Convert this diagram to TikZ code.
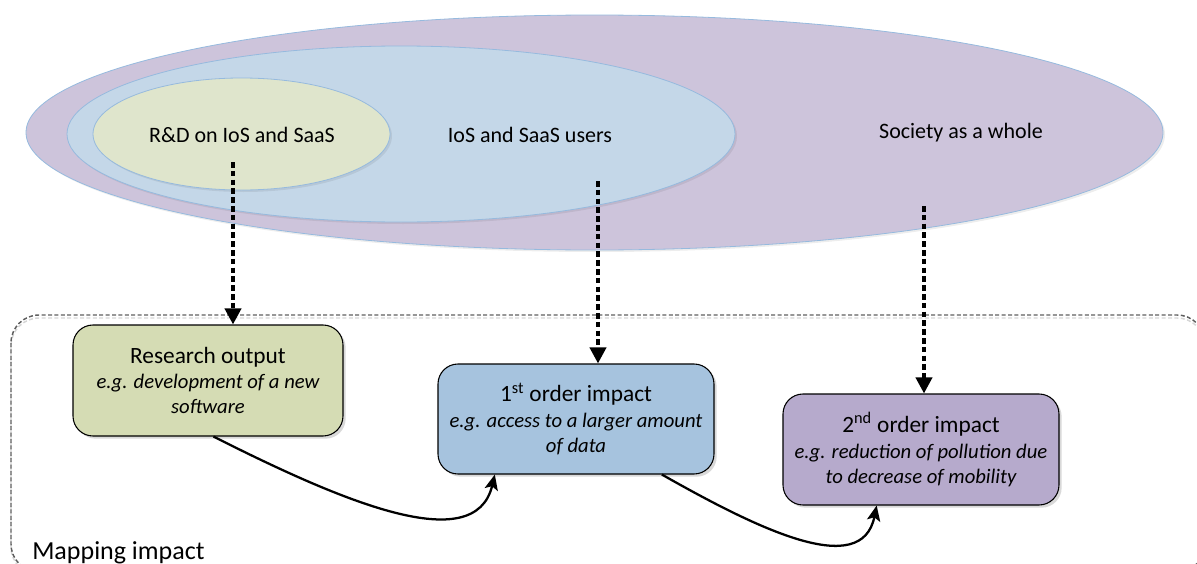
\documentclass[tikz,border=0pt]{standalone}
\usepackage{fontspec}
\setmainfont{Carlito}
\usetikzlibrary{shapes.geometric,arrows.meta,shadows,calc}

\definecolor{outerfill}{RGB}{205,196,219}
\definecolor{midfill}{RGB}{196,215,232}
\definecolor{innerfill}{RGB}{223,229,204}
\definecolor{ringline}{RGB}{150,186,222}
\definecolor{outfill}{RGB}{213,220,180}
\definecolor{firstfill}{RGB}{166,195,222}
\definecolor{secondfill}{RGB}{182,170,204}
\definecolor{frameline}{RGB}{95,95,95}

\tikzset{
  ring/.style={ellipse, draw=ringline, line width=0.6pt, inner sep=0pt,
    drop shadow={shadow xshift=1.5pt, shadow yshift=-1.5pt, fill=black, opacity=0.07}},
  ringlabel/.style={font=\fontsize{16.5}{20}\selectfont, inner sep=0pt},
  stage/.style={draw=black, line width=0.8pt, rounded corners=15pt, align=center,
    inner sep=0pt, font=\fontsize{15.5}{18.8}\selectfont\itshape,
    drop shadow={shadow xshift=2pt, shadow yshift=-2pt, fill=black, opacity=0.15}},
  darr/.style={draw=black, line width=2.8pt, dash pattern=on 4.2pt off 2.4pt,
    -{Triangle[length=12pt,width=12pt]}},
  carr/.style={draw=black, line width=1.7pt,
    -{Stealth[length=11.5pt,width=10pt,inset=2.5pt]}},
  framebox/.style={draw=frameline, line width=1.1pt, dash pattern=on 3pt off 1.8pt,
    rounded corners=21pt},
  frameshade/.style={draw=black!16, line width=1.1pt, dash pattern=on 3pt off 1.8pt,
    rounded corners=21pt},
}

\newcommand{\stagehead}[1]{{\fontsize{17.5}{21}\selectfont\upshape #1}}

\begin{document}
\begin{tikzpicture}[x=0.75pt,y=-0.75pt]
\useasboundingbox (0,0) rectangle (1197,564);

% nested populations
\node[ring, fill=outerfill, minimum width=852.75pt, minimum height=176.25pt] (society) at (594.5,132.5) {};
\node[ring, fill=midfill, minimum width=501pt, minimum height=132pt] (users) at (401,134) {};
\node[ring, fill=innerfill, minimum width=222.75pt, minimum height=84pt] (rnd) at (241.5,134) {};

\node[ringlabel] (rndlabel) at (242,135) {R\&D on IoS and SaaS};
\node[ringlabel] (userslabel) at (530,135) {IoS and SaaS users};
\node[ringlabel] (societylabel) at (961,133) {Society as a whole};

% mapping frame
\draw[frameshade] (11,318) rectangle (1205,575);
\draw[framebox] (11,315) rectangle (1205,572);
\node[anchor=base west, font=\fontsize{19.5}{23}\selectfont, inner sep=0pt] (maplabel) at (32,559) {Mapping impact};

% impact stages
\node[stage, fill=outfill, minimum width=202.5pt, minimum height=83.25pt] (b1) at (208,380.5)
  {\stagehead{Research output}\\[0.5pt] e.g. development of a new\\ software};
\node[stage, fill=firstfill, minimum width=207pt, minimum height=82.5pt] (b2) at (576,419)
  {\stagehead{1\textsuperscript{st} order impact}\\[0.5pt] e.g. access to a larger amount\\ of data};
\node[stage, fill=secondfill, minimum width=207pt, minimum height=83.25pt] (b3) at (921,449.5)
  {\stagehead{2\textsuperscript{nd} order impact}\\[0.5pt] e.g. reduction of pollution due\\ to decrease of mobility};

% dashed links from populations to stages
\coordinate (s1) at (233,162);
\coordinate (s2) at (598,181);
\coordinate (s3) at (924,206);
\draw[darr] (s1) -- (s1 |- b1.north);
\draw[darr] (s2) -- (s2 |- b2.north);
\draw[darr] (s3) -- (s3 |- b3.north);

% impact chain
\draw[carr] ($(b1.south west)!0.52!(b1.south east)$) .. controls +(127,64) and +(-20,84) .. ($(b2.south west)!0.207!(b2.south east)$);
\draw[carr] ($(b2.south west)!0.81!(b2.south east)$) .. controls +(97,55) and +(-15,74) .. ($(b3.south west)!0.34!(b3.south east)$);
\end{tikzpicture}
\end{document}
